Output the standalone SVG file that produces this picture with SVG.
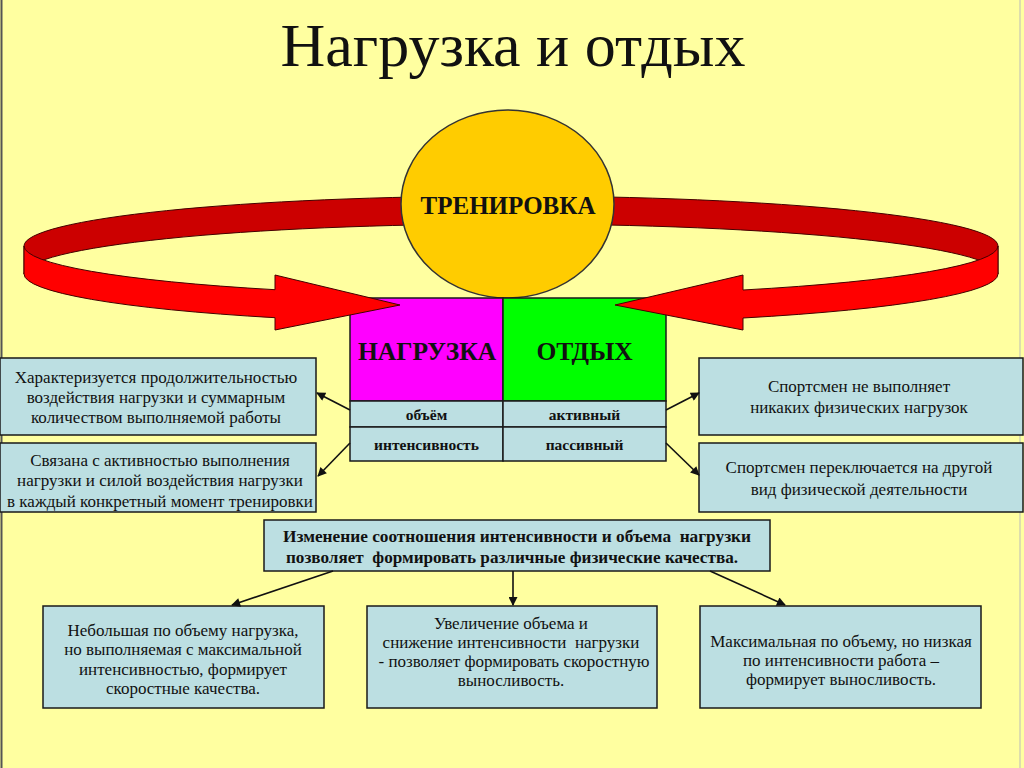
<svg xmlns="http://www.w3.org/2000/svg" width="1024" height="768" viewBox="0 0 1024 768">
<defs>
<style>
.t{font-family:"Liberation Serif","Times New Roman",serif;fill:#111;text-anchor:middle;white-space:pre}
.b{font-weight:bold}
.box{fill:#BCDFE2;stroke:#1a1a1a;stroke-width:1.5}
.con{stroke:#111;stroke-width:1.6;fill:none;marker-end:url(#ah)}
.body{font-size:17px}
.cell{font-size:15.5px;font-weight:bold}
.red{stroke:#400;stroke-width:1}
</style>
<marker id="ah" viewBox="0 0 10 10" refX="9" refY="5" markerWidth="11" markerHeight="9" orient="auto" markerUnits="userSpaceOnUse">
<path d="M0,0 L10,5 L0,10 Z" fill="#111"/>
</marker>
</defs>
<rect x="0" y="0" width="1024" height="768" fill="#FFFFA0"/>
<line x1="1.5" y1="0" x2="1.5" y2="768" stroke="#555" stroke-width="2"/>
<line x1="1020" y1="0" x2="1020" y2="768" stroke="#bbb" stroke-width="1"/>

<text id="title" class="t" x="513" y="66" font-size="62">Нагрузка и отдых</text>

<g id="ribbon-back">
<path class="red" d="M24,246 A487,50 0 0 1 998,246 L998,274 A487,50 0 0 0 24,274 Z" fill="#CC0000"/>
</g>

<g id="trenirovka">
<ellipse cx="507.5" cy="204" rx="106.5" ry="94" fill="#FFCC00" stroke="#333" stroke-width="1.5"/>
<text class="t b" x="508" y="214" font-size="25">ТРЕНИРОВКА</text>
</g>

<g id="nagruzka">
<rect x="350" y="298" width="153" height="103" fill="#FF00FF" stroke="#1a1a1a" stroke-width="1.5"/>
<text class="t b" x="427" y="360" font-size="25.5">НАГРУЗКА</text>
</g>
<g id="otdyh">
<rect x="503" y="298" width="163" height="103" fill="#00FF00" stroke="#1a1a1a" stroke-width="1.5"/>
<text class="t b" x="584.5" y="360" font-size="25.5">ОТДЫХ</text>
</g>
<g id="obem">
<rect class="box" x="350" y="401" width="153" height="26"/>
<text class="t cell" x="426.5" y="420">объём</text>
</g>
<g id="intensivnost">
<rect class="box" x="350" y="427" width="153" height="34"/>
<text class="t cell" x="426.5" y="450">интенсивность</text>
</g>
<g id="aktivny">
<rect class="box" x="503" y="401" width="163" height="26"/>
<text class="t cell" x="584.5" y="420">активный</text>
</g>
<g id="passivny">
<rect class="box" x="503" y="427" width="163" height="34"/>
<text class="t cell" x="584.5" y="450">пассивный</text>
</g>

<g id="ribbon-front">
<path class="red" d="M24,246 A487,50 0 0 0 275,289.7 L275,275 L400,305 L275,330 L275,317.7 A487,50 0 0 1 24,274 Z" fill="#FF0000"/>
<path class="red" d="M998,246 A487,50 0 0 1 743,290 L743,275 L615,305 L743,330 L743,318 A487,50 0 0 0 998,274 Z" fill="#FF0000"/>
</g>

<g id="left1">
<rect class="box" x="0" y="358" width="316" height="77"/>
<text class="t body" x="156" y="383">Характеризуется продолжительностью</text>
<text class="t body" x="156" y="403">воздействия нагрузки и суммарным</text>
<text class="t body" x="156" y="423">количеством выполняемой работы</text>
</g>
<g id="left2">
<rect class="box" x="0" y="443" width="316" height="69"/>
<text class="t body" x="160" y="466">Связана с активностью выполнения</text>
<text class="t body" x="160" y="486">нагрузки и силой воздействия нагрузки</text>
<text class="t body" x="160" y="507">в каждый конкретный момент тренировки</text>
</g>
<g id="right1">
<rect class="box" x="699" y="358" width="324" height="77"/>
<text class="t body" x="859" y="392">Спортсмен не выполняет</text>
<text class="t body" x="859" y="413">никаких физических нагрузок</text>
</g>
<g id="right2">
<rect class="box" x="699" y="443" width="324" height="69"/>
<text class="t body" x="859" y="473">Спортсмен переключается на другой</text>
<text class="t body" x="859" y="495">вид физической деятельности</text>
</g>

<g id="middle">
<rect class="box" x="264" y="520" width="506" height="51"/>
<text class="t b" x="517" y="542" font-size="16" textLength="468" lengthAdjust="spacingAndGlyphs">Изменение соотношения интенсивности и объема  нагрузки</text>
<text class="t b" x="512" y="563" font-size="16" textLength="452" lengthAdjust="spacingAndGlyphs">позволяет  формировать различные физические качества.</text>
</g>

<g id="bottom1">
<rect class="box" x="43" y="606" width="281" height="102"/>
<text class="t body" x="183" y="636">Небольшая по объему нагрузка,</text>
<text class="t body" x="183" y="655">но выполняемая с максимальной</text>
<text class="t body" x="183" y="675">интенсивностью, формирует</text>
<text class="t body" x="183" y="694">скоростные качества.</text>
</g>
<g id="bottom2">
<rect class="box" x="367" y="606" width="290" height="102"/>
<text class="t body" x="511" y="629">Увеличение объема и</text>
<text class="t body" x="511" y="648">снижение интенсивности  нагрузки</text>
<text class="t body" x="514" y="667">- позволяет формировать скоростную</text>
<text class="t body" x="511" y="686">выносливость.</text>
</g>
<g id="bottom3">
<rect class="box" x="700" y="606" width="281" height="102"/>
<text class="t body" x="841" y="647">Максимальная по объему, но низкая</text>
<text class="t body" x="841" y="666">по интенсивности работа –</text>
<text class="t body" x="841" y="685">формирует выносливость.</text>
</g>

<g id="connectors">
<line class="con" x1="350" y1="410" x2="317" y2="393"/>
<line class="con" x1="350" y1="443" x2="318" y2="476"/>
<line class="con" x1="666" y1="410" x2="699" y2="393"/>
<line class="con" x1="666" y1="443" x2="699" y2="475"/>
<line class="con" x1="333" y1="571" x2="232" y2="605"/>
<line class="con" x1="513" y1="571" x2="513" y2="605"/>
<line class="con" x1="710" y1="571" x2="785" y2="605"/>
</g>
</svg>
